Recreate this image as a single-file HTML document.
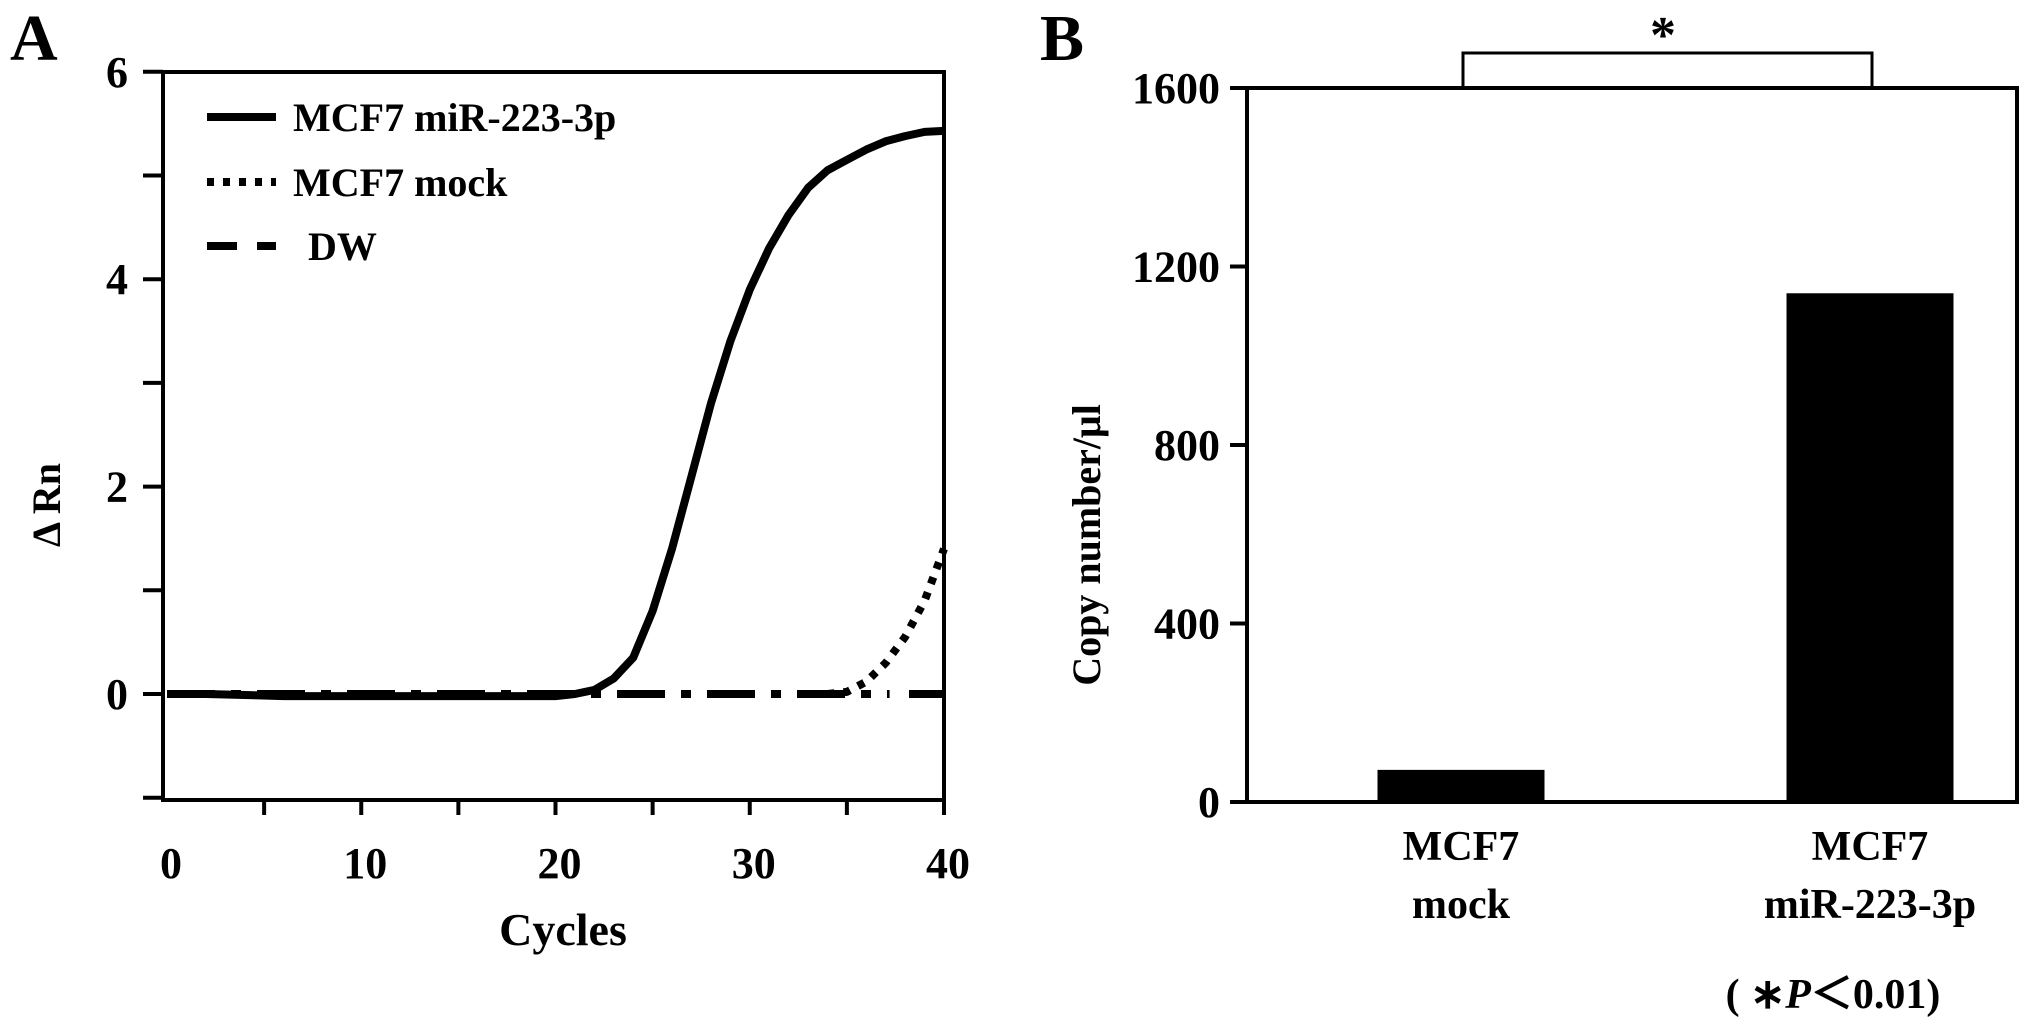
<!DOCTYPE html>
<html><head><meta charset="utf-8"><style>
html,body{margin:0;padding:0;background:#fff;}
svg{display:block;}
svg text, svg tspan{font-family:"Liberation Serif","Times New Roman",Times,serif;font-weight:bold;}
</style></head><body>
<svg id="fig" width="2031" height="1025" viewBox="0 0 2031 1025" xmlns="http://www.w3.org/2000/svg" font-family="Liberation Serif, serif" font-weight="bold">
<g id="pa"></g>
<g id="pb"></g>
</svg>
<script>
// Panel A data
const cycles = [0,2,4,6,8,10,12,14,16,18,20,21,22,23,24,25,26,27,28,29,30,31,32,33,34,35,36,37,38,39,40];
const mirValues = [0,0,-0.01,-0.02,-0.02,-0.02,-0.02,-0.02,-0.02,-0.02,-0.02,0,0.04,0.15,0.35,0.8,1.4,2.1,2.8,3.4,3.9,4.3,4.62,4.88,5.05,5.15,5.25,5.33,5.38,5.42,5.43];
const mockCycles = [34,35,36,37,38,39,40];
const mockValues = [0,0.02,0.12,0.3,0.55,0.9,1.4];
const dwCycles = [0,37.2];
const dwValues = [0,0];
const dwCycles2 = [38.2,40];
const dwValues2 = [0,0];
const yTicksA = [-1,0,1,2,3,4,5,6];
const yLabelsA = ["","0","","2","","4","","6"];
const xTicksA = [0,5,10,15,20,25,30,35,40];
const xLabelsA = ["0","","10","","20","","30","","40"];
// Panel B data
const groups = ["MCF7|mock","MCF7|miR-223-3p"];
const copyNumbers = [72,1140];
const yTicksB = [0,400,800,1200,1600];

const NS="http://www.w3.org/2000/svg";
function mk(parent,tag,attrs,text){const e=document.createElementNS(NS,tag);for(const k in attrs)e.setAttribute(k,attrs[k]);if(text!==undefined)e.textContent=text;parent.appendChild(e);return e;}

// ---- Panel A ----
const pa=document.getElementById('pa');
const ax0=163, ax1=944, ay0=72, ay1=800;
const xA=c=>167+(944-167)*c/40;
const yA=v=>694-103.7*v;
let t=mk(pa,'text',{x:10,y:60,'font-size':66});t.textContent='A';


let r=mk(pa,'path',{d:`M${ax0} ${ay0} H${ax1} V${ay1} H${ax0} Z`,fill:'none',stroke:'#000','stroke-width':4});


yTicksA.forEach((v,i)=>{
  const g=mk(pa,'g',{});
  
  
  mk(g,'line',{x1:ax0-20,x2:ax0,y1:yA(v),y2:yA(v),stroke:'#000','stroke-width':4});
  if(yLabelsA[i]) mk(g,'text',{x:128,y:yA(v)+15,'font-size':44,'text-anchor':'end'},yLabelsA[i]);
});
xTicksA.forEach((c,i)=>{
  const g=mk(pa,'g',{});
  
  
  if(c>0) mk(g,'line',{x1:xA(c),x2:xA(c),y1:ay1,y2:ay1+15,stroke:'#000','stroke-width':4});
  if(xLabelsA[i]) mk(g,'text',{x:xA(c)+4,y:878,'font-size':44,'text-anchor':'middle'},xLabelsA[i]);
});
t=mk(pa,'text',{x:563,y:945,'font-size':46,'text-anchor':'middle'},'Cycles');


t=mk(pa,'text',{x:0,y:0,'font-size':40,'text-anchor':'middle',transform:'translate(60,505) rotate(-90)'},'Δ Rn');


function pathOf(xs,ys){return xs.map((c,i)=>(i?'L':'M')+xA(c).toFixed(1)+' '+yA(ys[i]).toFixed(1)).join(' ');}
let p=mk(pa,'path',{d:pathOf(dwCycles,dwValues)+' '+pathOf(dwCycles2,dwValues2),fill:'none',stroke:'#000','stroke-width':8,'stroke-dasharray':'48 16 10 16'});


p=mk(pa,'path',{d:pathOf(mockCycles,mockValues),fill:'none',stroke:'#000','stroke-width':8,'stroke-dasharray':'7 9'});


p=mk(pa,'path',{d:pathOf(cycles,mirValues),fill:'none',stroke:'#000','stroke-width':8,'stroke-linejoin':'round'});


const leg=[['MCF7 miR-223-3p','none',117],['MCF7 mock','7 9',182],['DW','30 20',246]];
leg.forEach(l=>{
  const g=mk(pa,'g',{});
  
  
  mk(g,'line',{x1:207,x2:276,y1:l[2],y2:l[2],stroke:'#000','stroke-width':8,'stroke-dasharray':l[1]});
  mk(g,'text',{x:l[0]==='DW'?308:293,y:l[2]+14,'font-size':40},l[0]);
});

// ---- Panel B ----
const pb=document.getElementById('pb');
const bx0=1247,bx1=2017,by0=88,by1=802;
const yB=v=>by1-(by1-by0)*v/1600;
const barCenters=[1461,1870], barW=167;
t=mk(pb,'text',{x:1040,y:60,'font-size':66});t.textContent='B';


r=mk(pb,'path',{d:`M${bx0} ${by0} H${bx1} V${by1} H${bx0} Z`,fill:'none',stroke:'#000','stroke-width':4});


yTicksB.forEach(v=>{
  const g=mk(pb,'g',{});
  
  
  mk(g,'line',{x1:bx0-17,x2:bx0,y1:yB(v),y2:yB(v),stroke:'#000','stroke-width':4});
  mk(g,'text',{x:1220,y:yB(v)+15,'font-size':44,'text-anchor':'end'},String(v));
});
copyNumbers.forEach((v,i)=>{
  const b=mk(pb,'rect',{x:barCenters[i]-barW/2,y:yB(v),width:barW,height:by1-yB(v),fill:'#000'});
  
  
  const parts=groups[i].split('|');
  const g=mk(pb,'g',{});
  
  
  mk(g,'text',{x:barCenters[i],y:860,'font-size':42,'text-anchor':'middle'},parts[0]);
  mk(g,'text',{x:barCenters[i],y:918,'font-size':42,'text-anchor':'middle'},parts[1]);
});
t=mk(pb,'text',{x:0,y:0,'font-size':40,'text-anchor':'middle',transform:'translate(1100,545) rotate(-90)'},'Copy number/μl');


const br=mk(pb,'path',{d:`M1463 ${by0} V53 H1872 V${by0}`,fill:'none',stroke:'#000','stroke-width':3});


t=mk(pb,'text',{x:1663,y:52,'font-size':52,'text-anchor':'middle'},'*');


t=mk(pb,'text',{x:1833,y:1008,'font-size':42,'text-anchor':'middle'});


t.innerHTML='( ∗<tspan font-style="italic">P</tspan>＜0.01)';
</script>
</body></html>
